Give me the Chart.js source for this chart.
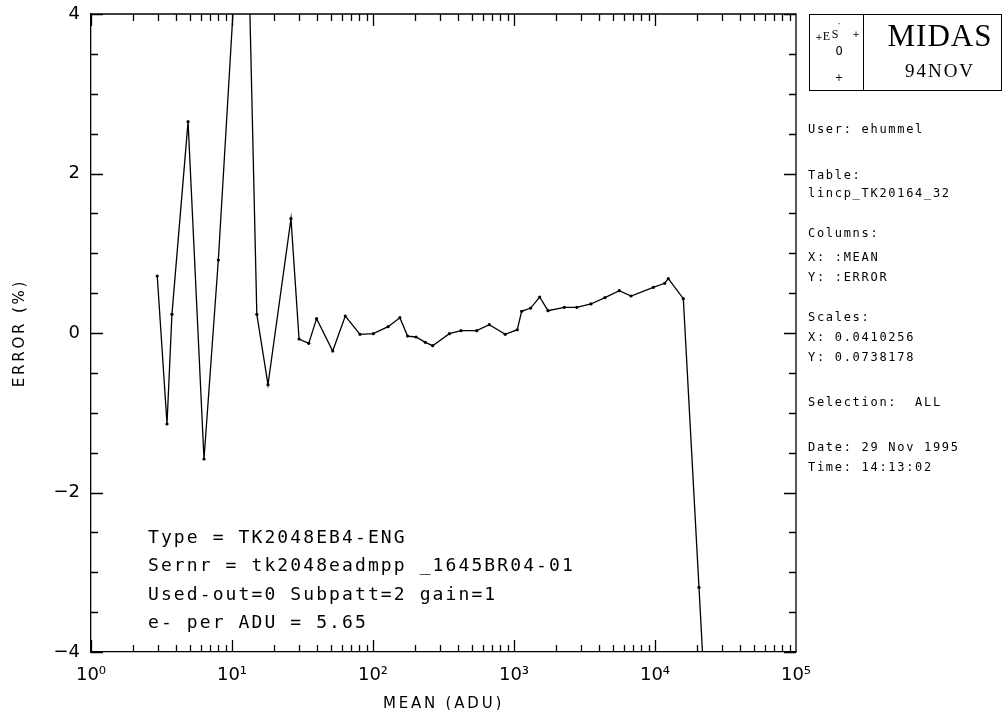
<!DOCTYPE html>
<html><head><meta charset="utf-8">
<script src="https://cdn.jsdelivr.net/npm/chart.js@4.4.1/dist/chart.umd.min.js"></script>
<style>
html,body{margin:0;padding:0;background:#fff;}
#wrap{position:relative;width:1002px;height:710px;overflow:hidden;background:#fff;}
#c{position:absolute;left:0;top:0;}
.t{position:absolute;color:#000;white-space:pre;}
.side{font-family:'DejaVu Sans Mono',monospace;font-size:12px;letter-spacing:1.7px;line-height:14px;left:808px;}
.note{font-family:'DejaVu Sans Mono',monospace;font-size:18px;letter-spacing:2.1px;line-height:20px;left:148px;}
#logo{position:absolute;left:809px;top:14px;width:193px;height:77px;border:1px solid #000;box-sizing:border-box;}
#logoDiv{position:absolute;left:863px;top:14px;width:1px;height:77px;background:#000;}
.serif{font-family:'Liberation Serif','DejaVu Serif',serif;}
.c{transform:translate(-50%,-50%);line-height:1;}
</style>
</head><body>
<div id="wrap">
<canvas id="c" width="1002" height="710"></canvas>
<div id="logo"></div><div id="logoDiv"></div>
<div class="t serif" style="left:880px;width:120px;text-align:center;top:20px;font-size:31px;line-height:31px;letter-spacing:1px;">MIDAS</div>
<div class="t serif" style="left:880px;width:120px;text-align:center;top:61px;font-size:19px;line-height:19px;letter-spacing:2px;">94NOV</div>
<div class="t c" style="left:839px;top:25px;font-size:8px;font-family:'DejaVu Sans';">·</div>
<div class="t c" style="left:819px;top:37px;font-size:9px;font-family:'DejaVu Sans';">+</div>
<div class="t c serif" style="left:826.5px;top:36px;font-size:12px;">E</div>
<div class="t c serif" style="left:835px;top:34px;font-size:12px;">S</div>
<div class="t c" style="left:856px;top:34px;font-size:9px;font-family:'DejaVu Sans';">+</div>
<div class="t c" style="left:839px;top:51px;font-size:12px;font-family:'DejaVu Sans Mono';">O</div>
<div class="t c" style="left:839px;top:78px;font-size:10px;font-family:'DejaVu Sans';">+</div>
<div id="sidePanel"></div>
<div id="notes"></div>
</div>
<script>
// ---- data ----
const meanADU = [2.95, 3.46, 3.75, 4.88, 6.33, 8.0, 12.4, 15.0, 18.0, 26.2, 29.9, 35.0, 39.8, 51.8, 63.6, 80.9, 100.5, 128, 155, 176, 202, 235, 265, 348, 421, 544, 668, 867, 1055, 1133, 1313, 1521, 1742, 2275, 2786, 3516, 4417, 5580, 6760, 9730, 11710, 12420, 15880, 20510, 25000];
const errorPct = [0.715, -1.141, 0.234, 2.65, -1.58, 0.915, 6.6, 0.234, -0.648, 1.433, -0.075, -0.13, 0.18, -0.226, 0.213, -0.017, -0.008, 0.079, 0.192, -0.038, -0.05, -0.117, -0.159, -0.008, 0.029, 0.029, 0.104, -0.017, 0.041, 0.272, 0.313, 0.451, 0.28, 0.322, 0.322, 0.364, 0.443, 0.531, 0.464, 0.573, 0.623, 0.681, 0.43, -3.19, -6.0];
const xTickValues = [1, 10, 100, 1000, 10000, 100000];
const xTickLabels = ['10⁰', '10¹', '10²', '10³', '10⁴', '10⁵'];
const yTickValues = [-4, -2, 0, 2, 4];
const yTickLabels = ['−4', '−2', '0', '2', '4'];
const xTitle = 'MEAN (ADU)';
const yTitle = 'ERROR (%)';
const noteLines = ['Type = TK2048EB4-ENG', 'Sernr = tk2048eadmpp _1645BR04-01', 'Used-out=0 Subpatt=2 gain=1', 'e- per ADU = 5.65'];
const sideLines = ['User: ehummel', 'Table:', 'lincp_TK20164_32', 'Columns:', 'X: :MEAN', 'Y: :ERROR', 'Scales:', 'X: 0.0410256', 'Y: 0.0738178', 'Selection:  ALL', 'Date: 29 Nov 1995', 'Time: 14:13:02'];

// ---- text placement (layout only) ----
const sideTops = [122, 168, 186, 226, 250, 270, 310, 330, 350, 395, 440, 460];
const noteTops = [527, 555, 584, 612];
const sp = document.getElementById('sidePanel');
sideLines.forEach((s, i) => { const d = document.createElement('div'); d.className = 't side'; d.style.top = sideTops[i] + 'px'; d.textContent = s; sp.appendChild(d); });
const np = document.getElementById('notes');
noteLines.forEach((s, i) => { const d = document.createElement('div'); d.className = 't note'; d.style.top = noteTops[i] + 'px'; d.textContent = s; np.appendChild(d); });

const frameTicks = {
  id: 'frameTicks',
  beforeDraw(chart) {
    ['x', 'y'].forEach(id => {
      const s = chart.scales[id];
      if (s && !s._lsPatched) {
        const orig = s.drawTitle.bind(s);
        s.drawTitle = function () { const c = this.ctx; c.save(); c.letterSpacing = '2.8px'; orig(); c.restore(); };
        s._lsPatched = true;
      }
    });
  },
  afterDraw(chart) {
    const { ctx, chartArea: { left, right, top, bottom }, scales: { x, y } } = chart;
    ctx.save();
    ctx.strokeStyle = '#000';
    ctx.lineWidth = 1.3;
    ctx.beginPath();
    ctx.moveTo(left, top); ctx.lineTo(right, top); ctx.lineTo(right, bottom);
    for (let d = 0; d < 5; d++) {
      for (let m = 1; m <= 9; m++) {
        const px = Math.round(x.getPixelForValue(m * Math.pow(10, d))) + 0.5;
        const L = m === 1 ? 12 : 7;
        ctx.moveTo(px, bottom); ctx.lineTo(px, bottom - L);
        ctx.moveTo(px, top); ctx.lineTo(px, top + L);
      }
    }
    for (let k = -8; k <= 8; k++) {
      const v = k / 2;
      const py = Math.round(y.getPixelForValue(v)) + 0.5;
      const L = (k % 4 === 0) ? 12 : 7;
      ctx.moveTo(left, py); ctx.lineTo(left + L, py);
      ctx.moveTo(right, py); ctx.lineTo(right - L, py);
    }
    ctx.stroke();
    ctx.restore();
  }
};

new Chart(document.getElementById('c'), {
  type: 'line',
  data: {
    datasets: [{
      data: meanADU.map((m, i) => ({ x: m, y: errorPct[i] })),
      borderColor: '#000',
      borderWidth: 1.3,
      pointRadius: 1.6,
      pointBackgroundColor: '#000',
      pointBorderWidth: 0,
      tension: 0,
      clip: 0
    }]
  },
  options: {
    responsive: false,
    devicePixelRatio: 1,
    animation: false,
    layout: { padding: { left: 0, right: 206, top: 14, bottom: 0 } },
    plugins: { legend: { display: false }, tooltip: { enabled: false } },
    scales: {
      x: {
        type: 'logarithmic', min: 1, max: 100000,
        afterBuildTicks: s => { s.ticks = xTickValues.map(v => ({ value: v, major: true })); },
        afterFit: s => { s.height = 58; s.paddingLeft = 0; s.paddingRight = 0; },
        grid: { display: false, drawTicks: false },
        border: { display: true, color: '#000', width: 1.3 },
        ticks: { autoSkip: false, maxRotation: 0, padding: 13, color: '#000', font: { family: 'DejaVu Sans', size: 18 }, callback: (v, i) => xTickLabels[i] },
        title: { display: true, text: xTitle, color: '#000', font: { family: 'DejaVu Sans', size: 15 }, padding: { top: 0, bottom: -3 } }
      },
      y: {
        type: 'linear', min: -4, max: 4,
        afterBuildTicks: s => { s.ticks = yTickValues.map(v => ({ value: v })); },
        afterFit: s => { s.width = 91; s.paddingTop = 0; s.paddingBottom = 0; },
        grid: { display: false, drawTicks: false },
        border: { display: true, color: '#000', width: 1.3 },
        ticks: { padding: 11, color: '#000', font: { family: 'DejaVu Sans', size: 18 }, callback: (v, i) => yTickLabels[i] },
        title: { display: true, text: yTitle, color: '#000', font: { family: 'DejaVu Sans', size: 15 }, padding: { top: 11, bottom: 0 } }
      }
    }
  },
  plugins: [frameTicks]
});
</script>
</body></html>
